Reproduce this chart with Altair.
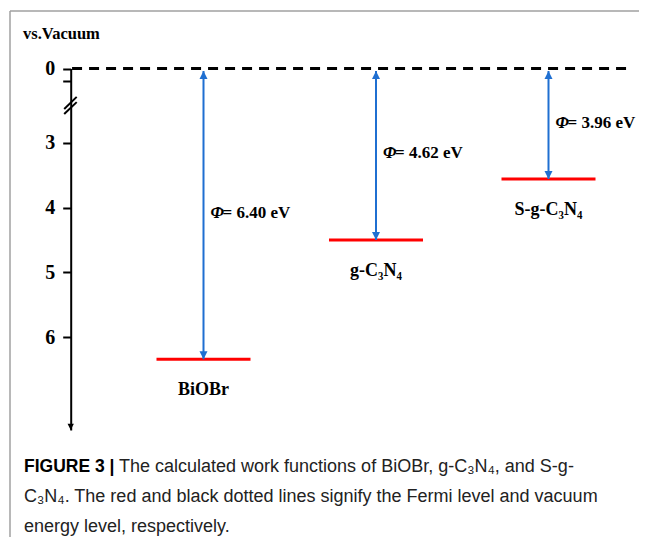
import altair as alt
import pandas as pd

# ---------------- data ----------------
materials = ["BiOBr", "g-C₃N₄", "S-g-C₃N₄"]
slot = [1, 2, 3]
work_function = [6.40, 4.62, 3.96]          # labelled values (eV)
fermi_drawn = [6.34, 4.50, 3.56]            # where the red levels are drawn on the axis
y_ticks = [0, 0.25, 0.5, 0.75, 3, 3.5, 4, 4.5, 5, 5.5, 6, 6.5]
y_breaks = [0, 0.75, 3, 7.43]               # broken axis: 0-0.75, gap, 3-7.43
vacuum_level = [0.0]
vacuum_span = [0.238, 3.461]
arrow_top = 0.1
break_low = [1.64, 1.84]
break_high = [1.15, 1.36]
title_text = "vs.Vacuum"
caption_bold = "FIGURE 3 |"
caption_l1 = "The calculated work functions of BiOBr, g-C₃N₄, and S-g-"
caption_l2 = "C₃N₄. The red and black dotted lines signify the Fermi level and vacuum"
caption_l3 = "energy level, respectively."

# ---------------- layout / style ----------------
W, H = 631, 529
X_RANGE = [23, 540.5]
Y_RANGE = [60.5, 79, 134.7, 422]
AXIS_X = 62.7
BLUE = "#1f6fd1"
RED = "#ff0000"
SERIF = "Liberation Serif"
SANS = "Liberation Sans"

df = pd.DataFrame({"material": materials, "slot": slot, "wf": work_function, "level": fermi_drawn})
df["phi"] = ["= %.2f eV" % v for v in work_function]
df["top"] = arrow_top

xs = alt.Scale(domain=[0, 3], range=X_RANGE, zero=False, nice=False)
ys = alt.Scale(domain=y_breaks, range=Y_RANGE, zero=False, nice=False)
y_axis = alt.Axis(
    values=y_ticks, title=None, grid=False, offset=-AXIS_X, format="d",
    labelExpr="datum.value % 1 == 0 ? datum.label : ''",
    labelFont=SERIF, labelFontSize=20, labelFontWeight="bold", labelColor="black",
    labelPadding=8, tickSize=8, tickWidth=2, tickColor="black",
    domainWidth=2, domainColor="black",
)

X = alt.X("slot:Q", scale=xs, axis=None)

base = alt.Chart(df)

# red Fermi levels (carry the y axis)
red = base.transform_calculate(
    x1="datum.slot - 0.2725", x2="datum.slot + 0.2725"
).mark_rule(color=RED, strokeWidth=3).encode(
    x=alt.X("x1:Q", scale=xs, axis=None),
    x2="x2:Q",
    y=alt.Y("level:Q", scale=ys, axis=y_axis),
)

# vacuum dashed line
vac_df = pd.DataFrame({"y": vacuum_level, "xa": [vacuum_span[0]], "xb": [vacuum_span[1]]})
vac = alt.Chart(vac_df).mark_rule(color="black", strokeWidth=3, strokeDash=[10, 7]).encode(
    x=alt.X("xa:Q", scale=xs, axis=None), x2="xb:Q",
    y=alt.Y("y:Q", scale=ys, axis=y_axis),
)

# blue double arrows
shaft = base.mark_rule(color=BLUE, strokeWidth=2).encode(
    x=X, y=alt.Y("top:Q", scale=ys, axis=y_axis), y2="level:Q"
)
head_up = base.mark_point(shape="M0,0L-1,2L1,2Z", filled=True, size=64, color=BLUE, opacity=1).encode(
    x=X, y=alt.Y("top:Q", scale=ys, axis=y_axis)
)
head_down = base.mark_point(shape="M0,0L-1,-2L1,-2Z", filled=True, size=64, color=BLUE, opacity=1).encode(
    x=X, y=alt.Y("level:Q", scale=ys, axis=y_axis)
)

# labels
mid_expr = alt.expr("(scale('y', datum.top) + scale('y', datum.level)) / 2 - 2")
phi_sym = base.mark_text(
    text="Φ", font=SERIF, fontStyle="italic", fontWeight="bold", fontSize=17,
    align="left", baseline="middle", dx=7, y=mid_expr, color="black",
).encode(x=X)
phi_val = base.mark_text(
    font=SERIF, fontWeight="bold", fontSize=17, align="left", baseline="middle",
    dx=19, y=mid_expr, color="black",
).encode(x=X, text="phi:N")
names = base.mark_text(
    font=SERIF, fontWeight="bold", fontSize=18, align="center", baseline="middle", dy=31, color="black",
).encode(x=X, y=alt.Y("level:Q", scale=ys, axis=y_axis), text="material:N")

# axis end arrow and break marks
axis_end_df = pd.DataFrame({"y": [y_breaks[-1]]})
axis_head = alt.Chart(axis_end_df).mark_point(
    shape="M0,0L-1,-2L1,-2Z", filled=True, size=40, color="black", opacity=1
).encode(x=alt.value(AXIS_X), y=alt.Y("y:Q", scale=ys, axis=y_axis))

brk_df = pd.DataFrame({"lo": break_low, "hi": break_high})
brk = alt.Chart(brk_df).mark_rule(color="black", strokeWidth=2).encode(
    x=alt.value(AXIS_X - 6.5), x2=alt.value(AXIS_X + 6),
    y=alt.Y("lo:Q", scale=ys, axis=y_axis), y2="hi:Q",
)

# frame, title, caption
one = pd.DataFrame({"k": [0]})
frame_top = alt.Chart(one).mark_rule(color="#a0a0a0", strokeWidth=1.5).encode(
    x=alt.value(2), x2=alt.value(W), y=alt.value(3)
)
frame_left = alt.Chart(one).mark_rule(color="#a0a0a0", strokeWidth=1.5).encode(
    x=alt.value(2), y=alt.value(3), y2=alt.value(H)
)
title = alt.Chart(one).mark_text(
    text=title_text, font=SERIF, fontWeight="bold", fontSize=16.5, align="left", baseline="alphabetic", color="black"
).encode(x=alt.value(15), y=alt.value(31))

cap_b = alt.Chart(one).mark_text(
    text=caption_bold, font=SANS, fontWeight="bold", fontSize=17.5, align="left", baseline="alphabetic", color="black"
).encode(x=alt.value(16), y=alt.value(464))
cap1 = alt.Chart(one).mark_text(
    text=caption_l1, font=SANS, fontSize=18, align="left", baseline="alphabetic", color="#222222"
).encode(x=alt.value(111), y=alt.value(464))
cap2 = alt.Chart(one).mark_text(
    text=caption_l2, font=SANS, fontSize=18, align="left", baseline="alphabetic", color="#222222"
).encode(x=alt.value(16), y=alt.value(494))
cap3 = alt.Chart(one).mark_text(
    text=caption_l3, font=SANS, fontSize=18, align="left", baseline="alphabetic", color="#222222"
).encode(x=alt.value(16), y=alt.value(524))

chart = alt.layer(
    red, vac, shaft, head_up, head_down, phi_sym, phi_val, names,
    axis_head, brk, frame_top, frame_left, title, cap_b, cap1, cap2, cap3,
).properties(
    width=W, height=H, autosize=alt.AutoSizeParams(type="none"), padding=0, background="white"
).configure_view(stroke=None)

chart.save("out.html", embed_options={"renderer": "svg", "actions": False})
